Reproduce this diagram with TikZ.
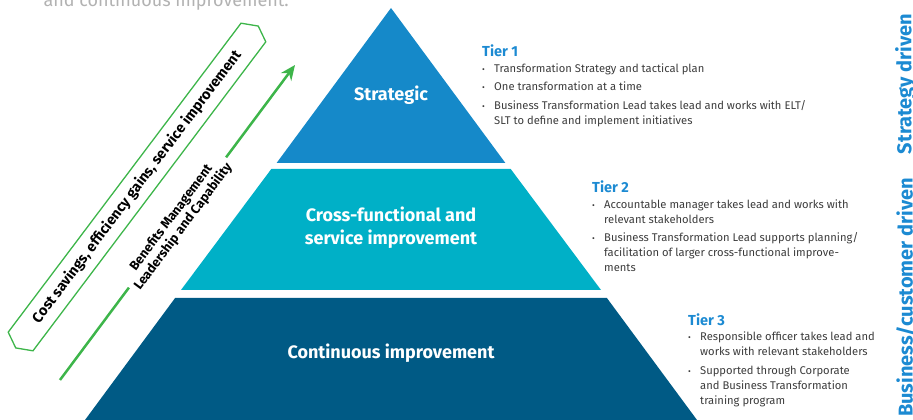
\documentclass[tikz,border=0pt]{standalone}
\usepackage{fontspec}
\setmainfont{Fira Sans}
\usetikzlibrary{positioning, shapes.symbols, arrows.meta}
\definecolor{tier-one}{HTML}{1589C9}
\definecolor{tier-two}{HTML}{00B0C7}
\definecolor{tier-three}{HTML}{005A85}
\definecolor{head-blue}{HTML}{1C8AD2}
\definecolor{benefit-green}{HTML}{3DB54A}
\definecolor{body-grey}{HTML}{3C3C3C}
\newcommand{\tb}{\makebox[12pt][l]{\fontsize{8.5}{8.5}\selectfont\textbullet}}

\begin{document}
\begin{tikzpicture}[x=1pt, y=1pt]
				\tikzset{level/.style={font=\fontsize{18}{23}\selectfont\bfseries, text=white, align=center}}
				\tikzset{tierhead/.style={font=\fontsize{14.5}{16}\selectfont\bfseries, text=head-blue, anchor=base west, inner sep=0pt}}
				\tikzset{tierlist/.style={font=\fontsize{11.2}{15}\selectfont, text=body-grey, anchor=base west, inner sep=0pt}}
				\tikzset{driver/.style={font=\fontsize{20}{22}\selectfont\bfseries, text=head-blue, rotate=90}}
				\tikzset{gain/.style={shape=signal, signal to=east and west, signal pointer angle=125, draw=benefit-green, line width=1.3pt, minimum height=31pt, minimum width=403pt, inner sep=0pt, font=\fontsize{14.5}{16}\selectfont\bfseries}}
				\tikzset{benefit/.style={benefit-green, line width=2.5pt, -{Stealth[length=15pt, width=13pt]}}}
				\tikzset{benefit text/.style={sloped, pos=0.5, fill=white, text=black, align=center, inner xsep=4pt, font=\fontsize{13}{15}\selectfont\bfseries}}
				\useasboundingbox (0,0) rectangle (913,420);
				\clip (0,0) rectangle (913,420);
				% pyramid
				\fill[tier-one] (391,412) -- (505.4,257) -- (276.6,257) -- cycle;
				\fill[tier-two] (271.3,251) -- (510.7,251) -- (601,130) -- (181,130) -- cycle;
				\fill[tier-three] (175.1,122) -- (606.9,122) -- (697,0) -- (85,0) -- cycle;
				\node[level] (strategic) at (391,325) {Strategic};
				\node[level] (cross) at (391,192) {Cross-functional and\\service improvement};
				\node[level] (continuous) at (391,67) {Continuous improvement};
				% tiers
				\node[tierhead] (tier1) at (482,363) {Tier 1};
				\node[tierlist] (tier1 list) at ([yshift=-15.5pt]tier1.base west) {\begin{tabular}[t]{@{}l@{}l@{}}
					\tb & Transformation Strategy and tactical plan\\[3.5pt]
					\tb & One transformation at a time\\[3.5pt]
					\tb & Business Transformation Lead takes lead and works with ELT/\\
					& SLT to define and implement initiatives
				\end{tabular}};
				\node[tierhead] (tier2) at (592,227) {Tier 2};
				\node[tierlist] (tier2 list) at ([yshift=-15.5pt]tier2.base west) {\begin{tabular}[t]{@{}l@{}l@{}}
					\tb & Accountable manager takes lead and works with\\
					& relevant stakeholders\\[3.5pt]
					\tb & Business Transformation Lead supports planning/\\
					& facilitation of larger cross-functional improve-\\
					& ments
				\end{tabular}};
				\node[tierhead] (tier3) at (688,94) {Tier 3};
				\node[tierlist] (tier3 list) at ([yshift=-15pt]tier3.base west) {\begin{tabular}[t]{@{}l@{}l@{}}
					\tb & Responsible officer takes lead and\\
					& works with relevant stakeholders\\[3.5pt]
					\tb & Supported through Corporate\\
					& and Business Transformation\\
					& training program
				\end{tabular}};
				\node[driver] (strategy driver) at (905.5,336) {Strategy driven};
				\node[driver] (business driver) at (905.5,122.5) {Business/customer driven};
				% left side
				\node[font=\fontsize{18}{20}\selectfont, text=gray!60, anchor=base east, inner sep=0pt] (intro) at (289,413) {and continuous improvement.};
				\node[gain, rotate=53] (savings) at (137,233) {Cost savings, efficiency gains, service improvement};
				\coordinate (benefit start) at (60,40);
				\coordinate (benefit end) at (295,355);
				\draw[benefit] (benefit start) -- node[benefit text] (benefits) {Benefits Management\\Leadership and Capability} (benefit end);
			\end{tikzpicture}
\end{document}
